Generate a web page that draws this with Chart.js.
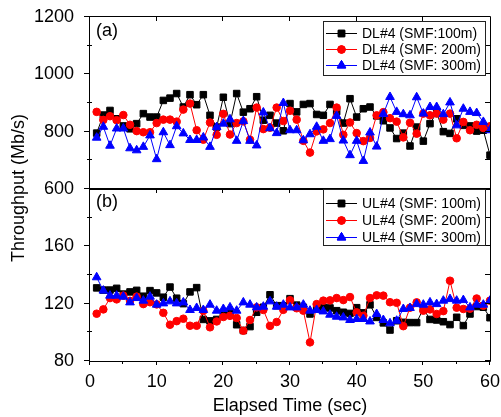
<!DOCTYPE html>
<html><head><meta charset="utf-8">
<script src="https://cdn.jsdelivr.net/npm/chart.js@4.4.1/dist/chart.umd.min.js"></script>
<style>
html,body{margin:0;padding:0;background:#fff;}
#wrap{position:relative;width:501px;height:417px;overflow:hidden;background:#fff;}
#wrap canvas{position:absolute;left:0;top:0;}
</style></head><body>
<div id="wrap"><canvas id="cA" width="501" height="417"></canvas><canvas id="cB" width="501" height="417"></canvas></div>
<script>
// ---------------- data ----------------
const seconds = [1,2,3,4,5,6,7,8,9,10,11,12,13,14,15,16,17,18,19,20,21,22,23,24,25,26,27,28,29,30,
                 31,32,33,34,35,36,37,38,39,40,41,42,43,44,45,46,47,48,49,50,51,52,53,54,55,56,57,58,59,60];

const dl100 = [795,858,874,845,820,810,828,863,851,851,909,917,933,886,929,894,929,857,816,920,
               828,933,868,880,922,840,857,830,803,898,869,895,898,860,857,895,870,830,915,851,
               880,886,855,838,813,776,795,750,816,767,828,866,800,794,845,822,820,802,805,718];
const dl200 = [869,841,854,840,858,824,802,798,798,830,842,842,835,877,898,805,772,832,789,862,
               790,830,836,772,884,809,814,884,837,873,842,768,727,801,808,830,884,789,832,795,
               767,778,857,868,847,835,780,831,793,863,857,863,842,863,777,834,805,824,813,819];
const dl300 = [779,817,751,811,811,742,735,747,787,704,798,753,819,794,771,771,780,747,816,828,
               843,768,837,768,752,867,812,795,900,805,805,770,791,817,768,774,855,769,718,768,
               698,797,748,862,921,869,861,857,920,863,886,886,861,902,822,880,869,865,834,805];

const ul100 = [131,129.5,129.5,130.7,126.7,128.2,129.3,125.2,129.1,127.5,124.5,131.6,123.8,120,128.2,131.2,109,108,109,112,
               113,105.3,101.3,104,114,117.5,126.2,118.6,118.6,123.5,119,117.5,112.8,117.4,117.4,117,115.1,114,113.2,117.2,
               113.6,119.2,110.4,106.6,101.6,108.1,107,106.8,106.8,116.5,109,108.6,107.4,105.4,110.5,104.7,112.8,118,117.5,110.2];
const ul200 = [113,116,123.9,123,125.6,122,124.9,119.7,121,119.5,113.6,105.3,107.8,109.5,104.6,104.6,115,103.5,107.6,110.7,
               111.5,110,101.1,108.6,117.4,115.6,104.5,107.2,115.7,122.4,116.8,115.1,93,119.7,122.1,122.3,123.9,122.5,124.6,113.9,
               111.6,123.9,125.8,125.6,121,120.6,104.3,117.2,120.9,115.1,116,112.8,114.8,136,117.2,116.3,116.5,123.6,118.6,122.1];
const ul300 = [138.4,129.1,125.6,125.6,124.9,120.9,123.9,122.1,124.9,119.3,120.2,121.6,120.2,120.9,115.6,117,115.6,119.3,115.1,116.3,
               117.4,115.1,120.9,119.3,117.4,117.9,121.6,117.9,119.3,117.4,117.4,119.3,115.1,115.6,114.6,112.3,110.9,110.4,108.6,109.3,
               109.3,107.6,112.8,108.6,106.3,108.1,116.3,117,119.7,119.3,120.9,119.7,122.1,123.2,122.1,122.5,117.4,119.3,119.3,122.1];

const dlLabels = ['DL#4 (SMF:100m)', 'DL#4 (SMF: 200m)', 'DL#4 (SMF: 300m)'];
const ulLabels = ['UL#4 (SMF: 100m)', 'UL#4 (SMF: 200m)', 'UL#4 (SMF: 300m)'];
const xTicks = [0,10,20,30,40,50,60];
const dlTicks = [600,800,1000,1200];
const ulTicks = [80,120,160];
const xTitle = 'Elapsed Time (sec)';
const yTitle = 'Throughput (Mb/s)';
const panelTags = ['(a)', '(b)'];

// ---------------- styling ----------------
const FONT = 'Liberation Sans, Arial, Helvetica, sans-serif';
Chart.defaults.font.family = FONT;
Chart.defaults.color = '#000';

const seriesStyle = [
  {color:'#000000', pointStyle:'rect', radius:4.6, order:2},
  {color:'#ff0000', pointStyle:'circle', radius:3.8, order:1},
  {color:'#0000ff', pointStyle:'triangle', radius:5, order:0}
];

function toPts(arr){ return seconds.map((s,i)=>({x:s, y:arr[i]})); }
function makeDatasets(labels, series){
  return series.map((arr,i)=>({
    label: labels[i],
    data: toPts(arr),
    borderColor: seriesStyle[i].color,
    backgroundColor: seriesStyle[i].color,
    pointBackgroundColor: seriesStyle[i].color,
    pointBorderColor: seriesStyle[i].color,
    pointStyle: seriesStyle[i].pointStyle,
    pointRadius: seriesStyle[i].radius,
    pointBorderWidth: 1,
    borderWidth: 1,
    tension: 0,
    order: seriesStyle[i].order
  }));
}

function drawMarker(ctx, style, r, x, y, color){
  ctx.save();
  ctx.fillStyle = color; ctx.strokeStyle = color; ctx.lineWidth = 1;
  if (Chart.helpers && Chart.helpers.drawPoint){
    Chart.helpers.drawPoint(ctx, {pointStyle: style, radius: r, borderWidth: 1, rotation: 0}, x, y);
    ctx.fill(); ctx.stroke();
  }
  ctx.restore();
}

const framePlugin = {
  id: 'frame',
  afterDraw(chart, args, o){
    const {ctx, chartArea:a, scales} = chart;
    const xs = scales.x, ys = scales.y;
    const L = a.left, R = a.right, T = a.top, B = a.bottom;
    ctx.save();
    ctx.strokeStyle = '#000'; ctx.lineWidth = 1;
    ctx.beginPath();
    ctx.rect(Math.round(L)-0.5, Math.round(T)-0.5, Math.round(R-L)+1, Math.round(B-T)+1);
    ctx.stroke();
    ctx.beginPath();
    // y ticks
    for (let v = ys.min; v <= ys.max + 1e-9; v += o.yMinor){
      const py = Math.round(ys.getPixelForValue(v)) - 0.5;
      const major = o.yMajor.includes(v);
      if (major){ ctx.moveTo(L-6, py); ctx.lineTo(L, py); }
      else { ctx.moveTo(L-3, py); ctx.lineTo(L+2, py); }
      ctx.moveTo(R, py); ctx.lineTo(R-5, py);
    }
    // x ticks
    for (let v = xs.min; v <= xs.max + 1e-9; v += 5){
      const px = Math.round(xs.getPixelForValue(v)) - 0.5;
      const major = (v % 10 === 0);
      if (o.topTicks && major && v > xs.min && v < xs.max){ ctx.moveTo(px, T); ctx.lineTo(px, T+4); }
      if (o.bottomTicks){
        if (major){ ctx.moveTo(px, B); ctx.lineTo(px, B+4); }
        else { ctx.moveTo(px, B); ctx.lineTo(px, B+3); }
      }
    }
    ctx.stroke();

    // panel tag
    ctx.fillStyle = '#000';
    ctx.font = '18px ' + FONT;
    ctx.textAlign = 'left'; ctx.textBaseline = 'middle';
    ctx.fillText(o.tag, L + 6, T + o.tagDy);

    // y title
    if (o.yTitle){
      ctx.save();
      ctx.translate(o.yTitleX, o.yTitleY);
      ctx.rotate(-Math.PI/2);
      ctx.textAlign = 'center'; ctx.textBaseline = 'middle';
      ctx.font = '18px ' + FONT;
      ctx.fillText(o.yTitle, 0, 0);
      ctx.restore();
    }

    // legend
    const lg = o.legend;
    ctx.fillStyle = '#fff';
    ctx.fillRect(lg.x, lg.y, lg.w, lg.h);
    ctx.strokeStyle = '#222';
    ctx.strokeRect(lg.x + 0.5, lg.y + 0.5, lg.w, lg.h);
    chart.data.datasets.forEach((ds, i) => {
      const ry = lg.y + lg.row0 + i*lg.rowStep;
      ctx.strokeStyle = ds.borderColor; ctx.lineWidth = 1;
      ctx.beginPath(); ctx.moveTo(lg.x + 3, Math.round(ry)+0.5); ctx.lineTo(lg.x + 34, Math.round(ry)+0.5); ctx.stroke();
      drawMarker(ctx, ds.pointStyle, ds.pointRadius, lg.x + 18.5, Math.round(ry)+0.5, ds.borderColor);
      ctx.fillStyle = '#000';
      ctx.font = '14px ' + FONT;
      ctx.textAlign = 'left'; ctx.textBaseline = 'middle';
      ctx.fillText(ds.label, lg.x + 39, ry + 0.5);
    });
    ctx.restore();
  }
};

function yAxis(min, max, ticks){
  return {
    type:'linear', min:min, max:max, position:'left',
    afterBuildTicks: s => { s.ticks = ticks.map(v => ({value:v})); },
    ticks: {font:{size:18}, color:'#000', padding:8, autoSkip:false, callback: v => String(v)},
    grid: {display:false}, border:{display:false},
    afterFit: s => { s.width = 90; s.paddingTop = 0; s.paddingBottom = 0; }
  };
}

// Top panel (a)
new Chart(document.getElementById('cA'), {
  type:'line',
  data:{datasets: makeDatasets(dlLabels, [dl100, dl200, dl300])},
  options:{
    responsive:false, animation:false, devicePixelRatio:1,
    layout:{padding:{top:17, right:11, bottom:228, left:0}},
    scales:{
      x:{type:'linear', min:0, max:60, display:false},
      y: yAxis(600, 1200, dlTicks)
    },
    plugins:{
      legend:{display:false}, tooltip:{enabled:false},
      frame:{yMinor:100, yMajor:dlTicks, topTicks:true, bottomTicks:false, tag:panelTags[0], tagDy:14,
             yTitle:yTitle, yTitleX:19, yTitleY:188,
             legend:{x:323, y:21, w:162, h:54, row0:12.3, rowStep:16}}
    }
  },
  plugins:[framePlugin]
});

// Bottom panel (b)
new Chart(document.getElementById('cB'), {
  type:'line',
  data:{datasets: makeDatasets(ulLabels, [ul100, ul200, ul300])},
  options:{
    responsive:false, animation:false, devicePixelRatio:1,
    layout:{padding:{top:189, right:11, bottom:0, left:0}},
    scales:{
      x:{type:'linear', min:0, max:60, position:'bottom',
         afterBuildTicks: s => { s.ticks = xTicks.map(v => ({value:v})); },
         ticks:{font:{size:18}, color:'#000', padding:2, autoSkip:false, maxRotation:0, callback: v => String(v)},
         grid:{display:false}, border:{display:false},
         title:{display:true, text:xTitle, font:{size:18}, color:'#000', padding:{top:0, bottom:0}},
         afterFit: s => { s.height = 56; s.paddingLeft = 0; s.paddingRight = 0; }
      },
      y: yAxis(80, 200, ulTicks)
    },
    plugins:{
      legend:{display:false}, tooltip:{enabled:false},
      frame:{yMinor:20, yMajor:ulTicks.concat([200]), topTicks:true, bottomTicks:true, tag:panelTags[1], tagDy:13,
             yTitle:null,
             legend:{x:323, y:189, w:162, h:56, row0:14.3, rowStep:17}}
    }
  },
  plugins:[framePlugin]
});
</script>
</body></html>
